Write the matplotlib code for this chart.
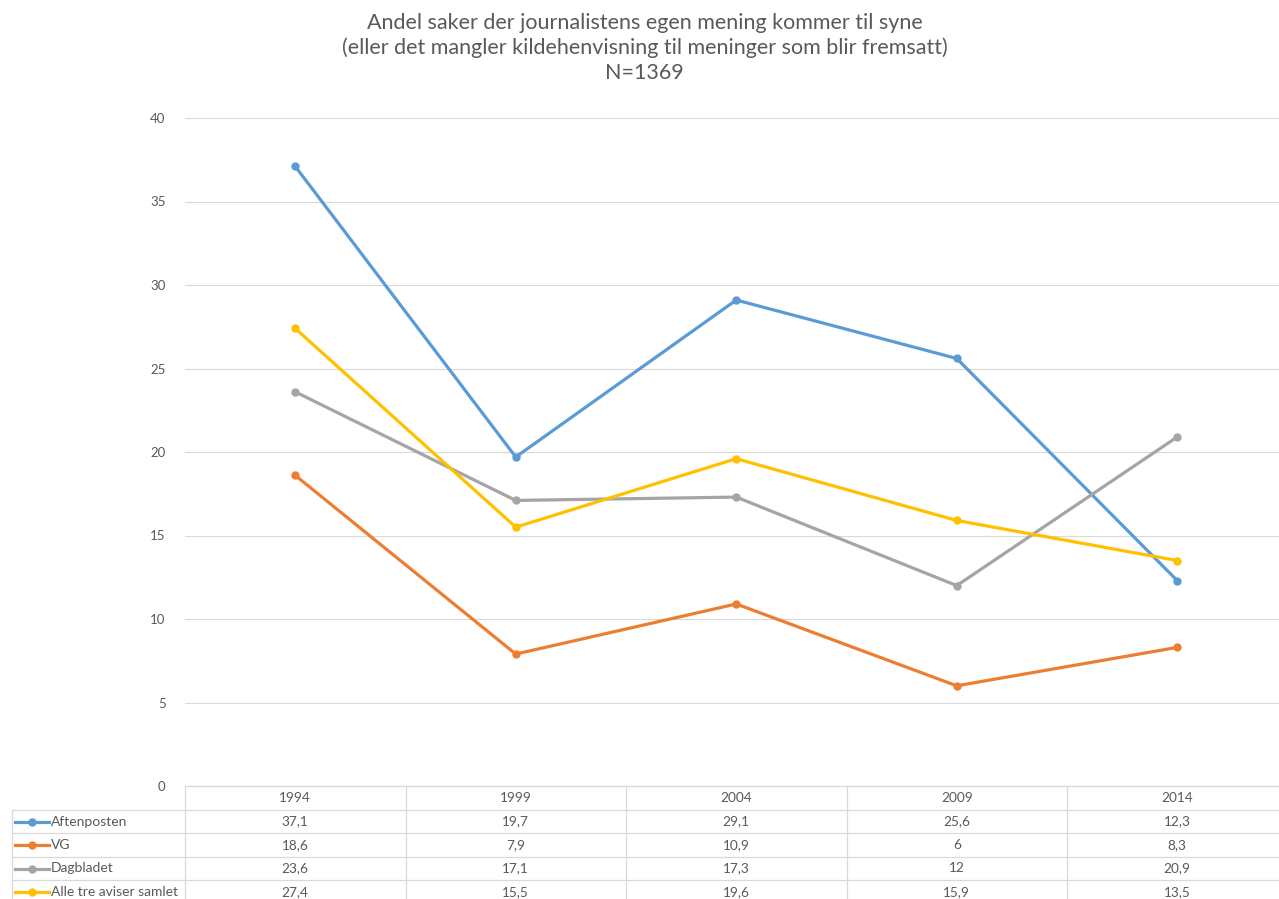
#!/usr/bin/env python3
# -*- coding: utf-8 -*-
"""Excel-style line chart with a data table under the plot area."""
import matplotlib

matplotlib.use("Agg")
import matplotlib.pyplot as plt  # noqa: E402
from matplotlib.transforms import blended_transform_factory  # noqa: E402
from matplotlib.lines import Line2D  # noqa: E402

years = ["1994", "1999", "2004", "2009", "2014"]
aftenposten = [37.1, 19.7, 29.1, 25.6, 12.3]
vg = [18.6, 7.9, 10.9, 6, 8.3]
dagbladet = [23.6, 17.1, 17.3, 12, 20.9]
alle_tre = [27.4, 15.5, 19.6, 15.9, 13.5]
series_names = ["Aftenposten", "VG", "Dagbladet", "Alle tre aviser samlet"]
title = ("Andel saker der journalistens egen mening kommer til syne\n"
         "(eller det mangler kildehenvisning til meninger som blir fremsatt)\n"
         "N=1369")

COLORS = ["#5B9BD5", "#ED7D31", "#A5A5A5", "#FFC000"]
GRID = "#D9D9D9"
TXT = "#595959"
W, H = 1279, 899

plt.rcParams["font.family"] = ["Lato", "DejaVu Sans"]


def fy(py):
    # pixel row from top -> figure fraction
    return 1 - py / H


def fx(px):
    return px / W


def fmt(v):
    s = f"{v:g}"
    return s.replace(".", ",")


def main():
    fig = plt.figure(figsize=(W / 100, H / 100), dpi=100)
    ncat = len(years)
    colw = 220.5
    left, right = 185, 185 + colw * ncat
    ax = fig.add_axes([fx(left), fy(786), fx(right - left), fy(118) - fy(786)])

    data = [aftenposten, vg, dagbladet, alle_tre]
    x = list(range(ncat))
    for vals, c in zip(data, COLORS):
        ax.plot(x, vals, color=c, lw=2.3, marker="o", ms=5, zorder=3,
                solid_capstyle="round")

    ax.set_xlim(-0.5, ncat - 0.5)
    ax.set_ylim(0, 40)
    ax.set_yticks(range(0, 41, 5))
    ax.set_xticks([])
    ax.grid(axis="y", color=GRID, lw=0.8)
    ax.set_axisbelow(True)
    for s in ax.spines.values():
        s.set_visible(False)
    ax.tick_params(axis="y", length=0, pad=14, labelsize=9.5, labelcolor=TXT)

    fig.text(0.504, fy(13), title, ha="center", va="top", fontsize=15.5,
             color=TXT, linespacing=1.28)

    # data table
    tr = blended_transform_factory(ax.transData, fig.transFigure)
    rows = [786, 810, 833, 857, 880, 904]
    # header top border and row borders
    ax.plot([-0.5, ncat - 0.5], [fy(786)] * 2, transform=tr, color=GRID,
            lw=0.9, clip_on=False)
    for r in rows[1:]:
        fig.add_artist(Line2D([fx(12), fx(right)], [fy(r)] * 2, color=GRID,
                              lw=0.9))
    for i in range(ncat + 1):
        fig.add_artist(Line2D([fx(left + i * colw)] * 2, [fy(786), fy(904)],
                              color=GRID, lw=0.9))
    fig.add_artist(Line2D([fx(12)] * 2, [fy(810), fy(904)], color=GRID, lw=0.9))

    for i, yr in enumerate(years):
        ax.text(i, fy((rows[0] + rows[1]) / 2), yr, transform=tr, ha="center",
                va="center", fontsize=9.8, color=TXT)
    for k, (vals, name, c) in enumerate(zip(data, series_names, COLORS)):
        yc = fy((rows[k + 1] + rows[k + 2]) / 2)
        fig.add_artist(Line2D([fx(15), fx(49)], [yc, yc], color=c, lw=2.3))
        fig.add_artist(Line2D([fx(32)], [yc], color=c, marker="o", ms=5))
        fig.text(fx(51), yc, name, ha="left", va="center", fontsize=10,
                 color=TXT)
        for i, v in enumerate(vals):
            ax.text(i, yc, fmt(v), transform=tr, ha="center", va="center",
                    fontsize=9.8, color=TXT)

    fig.savefig("out.png", dpi=100)


if __name__ == "__main__":
    main()
